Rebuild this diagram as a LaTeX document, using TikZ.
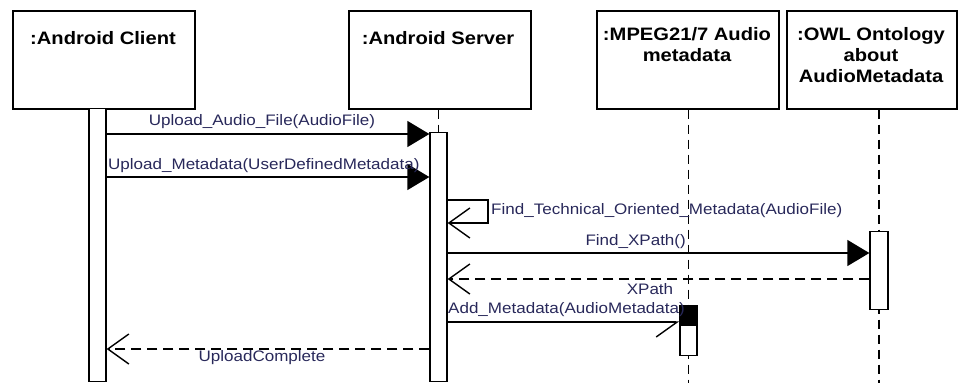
\documentclass[tikz,border=0pt]{standalone}
\usepackage{fontspec}
\setmainfont{Liberation Sans}[FakeStretch=1.12]
\usetikzlibrary{arrows.meta}
\definecolor{msgtext}{RGB}{40,40,90}

\begin{document}
\begin{tikzpicture}[x=1pt, y=-1pt,
    head/.style={draw, line width=1.7pt, inner sep=0pt, anchor=north west},
    title/.style={font=\bfseries\fontsize{18}{21}\selectfont, align=center, anchor=north, inner sep=0pt},
    bar/.style={draw, fill=white, line width=1.3pt, minimum width=17pt, inner sep=0pt, anchor=north},
    life/.style={line width=1.3pt, dash pattern=on 9pt off 6pt},
    call/.style={line width=1.4pt, -{Triangle[length=22pt, width=26pt]}},
    reply/.style={line width=1.4pt, dash pattern=on 10pt off 6pt, -{Straight Barb[length=21pt, width=30pt]}},
    self/.style={line width=1.4pt, -{Straight Barb[length=21pt, width=30pt]}},
    msg/.style={font=\fontsize{15.2}{18}\selectfont, text=msgtext, inner sep=0pt}
  ]
  \useasboundingbox (0,0) rectangle (958,383);

  % objects
  \node[head, minimum width=182pt, minimum height=98pt] (client) at (12,10) {};
  \node[head, minimum width=182pt, minimum height=98pt] (server) at (348,10) {};
  \node[head, minimum width=182pt, minimum height=98pt] (mpeg) at (596,10) {};
  \node[head, minimum width=170pt, minimum height=98pt] (owl) at (786,10) {};
  \node[title] at (103,31) {:Android Client};
  \node[title] at (438,31) {:Android Server};
  \node[title] at (687,27) {:MPEG21/7 Audio\\metadata};
  \node[title] at (871,27) {:OWL Ontology\\about\\AudioMetadata};

  % lifelines
  \draw[life] (server.south -| 438.5,0) -- (438.5,132);
  \draw[life] (mpeg.south -| 688.5,0) -- (688.5,383);
  \draw[life] (owl.south -| 879,0) -- (879,383);

  % activations
  \node[bar, minimum height=273pt] (cbar) at (97.5,108) {};
  \node[bar, minimum height=249pt] (sbar) at (438.5,132) {};
  \node[bar, minimum height=78pt, minimum width=18pt] (obar) at (879,231) {};
  \node[bar, minimum height=50pt] (mbar) at (688.5,305) {};
  \fill (mbar.north west) rectangle ([yshift=-21pt]mbar.north east);

  % messages
  \draw[call] (cbar.east |- 0,134) -- (sbar.west |- 0,134);
  \node[msg] at (262,122) {Upload\_Audio\_File(AudioFile)};
  \draw[call] (cbar.east |- 0,177) -- (sbar.west |- 0,177);
  \node[msg, anchor=west] at (108,166) {Upload\_Metadata(UserDefinedMetadata)};

  \coordinate (loop) at (488,200);
  \draw[self] (sbar.east |- loop) -- (loop) -- (loop |- 0,223) -- (sbar.east |- 0,223);
  \node[msg, anchor=west] at (491,211) {Find\_Technical\_Oriented\_Metadata(AudioFile)};

  \draw[call] (sbar.east |- 0,253) -- (obar.west |- 0,253);
  \node[msg, anchor=east] at (686,242) {Find\_XPath()};
  \draw[reply] (obar.west |- 0,279) -- (sbar.east |- 0,279);
  \node[msg] at (650,289) {XPath};

  \draw[line width=1.4pt, -{Straight Barb[length=21pt, width=30pt, harpoon, swap]}] (sbar.east |- 0,322) -- (mbar.west |- 0,322);
  \node[msg, anchor=west] at (448,310) {Add\_Metadata(AudioMetadata)};

  \draw[reply] (sbar.west |- 0,349) -- (cbar.east |- 0,349);
  \node[msg] at (262,358) {UploadComplete};
\end{tikzpicture}
\end{document}
